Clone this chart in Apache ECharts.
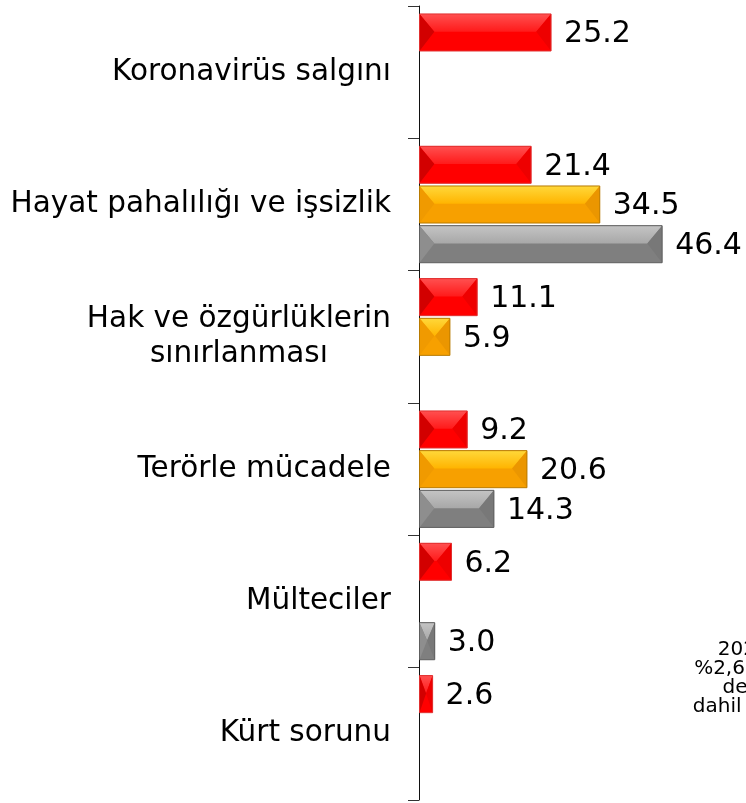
<!DOCTYPE html>
<html>
<head>
<meta charset="utf-8">
<script src="https://cdn.jsdelivr.net/npm/echarts@6/dist/echarts.min.js"></script>
<style>
  html, body { margin: 0; padding: 0; background: #fff; }
  #chart { width: 746px; height: 803px; }
</style>
</head>
<body>
<div id="chart"></div>
<script>
var categories = [
    'Koronavirüs salgını',
    'Hayat pahalılığı ve işsizlik',
    'Hak ve özgürlüklerin\nsınırlanması',
    'Terörle mücadele',
    'Mülteciler',
    'Kürt sorunu'
];
var redValues = [25.2, 21.4, 11.1, 9.2, 6.2, 2.6];
var orangeValues = [null, 34.5, 5.9, 20.6, null, null];
var grayValues = [null, 46.4, null, 14.3, 3.0, null];
var seriesNames = ['2021', '2020', '2019'];

var FONT = '"DejaVu Sans", Verdana, sans-serif';

// bevel colours for each series
var looks = [
    { base: '#ff0000', top: '#ff5050', topEnd: '#ff1a1a', left: '#d20000', right: '#ee0000', border: '#e03030' },
    { base: '#f7a000', top: '#ffd83a', topEnd: '#ffb400', left: '#f09a00', right: '#eb9600', border: '#b87a00' },
    { base: '#7f7f7f', top: '#c4c4c4', topEnd: '#a8a8a8', left: '#8e8e8e', right: '#787878', border: '#5e5e5e' }
];

function toData(values) {
    var out = [];
    values.forEach(function (v, i) {
        if (v != null) out.push([v, i]);
    });
    return out;
}

function bevelBar(slot) {
    var look = looks[slot];
    return function (params, api) {
        var v = api.value(0), c = api.value(1);
        var p0 = api.coord([0, c]);
        var p1 = api.coord([v, c]);
        var band = api.size([0, 1])[1];
        var h = band * 0.28, step = band * 0.30;
        var cy = p0[1] + (slot - 1) * step;
        var y0 = cy - h / 2, y1 = cy + h / 2;
        var x0 = p0[0] + 0.5, x1 = p1[0];
        var b = Math.min(h * 0.4, (x1 - x0) / 2);
        var ym = y0 + h * 0.48;
        return {
            type: 'group',
            children: [
                { type: 'rect', shape: { x: x0, y: y0, width: x1 - x0, height: h }, style: { fill: look.base } },
                { type: 'polygon', shape: { points: [[x0, y0], [x1, y0], [x1 - b, ym], [x0 + b, ym]] },
                  style: { fill: new echarts.graphic.LinearGradient(0, 0, 0, 1, [
                      { offset: 0, color: look.top }, { offset: 1, color: look.topEnd }]) } },
                { type: 'polygon', shape: { points: [[x0, y0], [x0 + b, ym], [x0, y1]] }, style: { fill: look.left } },
                { type: 'polygon', shape: { points: [[x1, y0], [x1 - b, ym], [x1, y1]] }, style: { fill: look.right } },
                { type: 'rect', shape: { x: x0, y: y0, width: x1 - x0, height: h },
                  style: { fill: null, stroke: look.border, lineWidth: 1 } },
                { type: 'text', style: { text: v.toFixed(1), x: x1 + 13, y: cy + 2, align: 'left',
                  verticalAlign: 'middle', font: '30px ' + FONT, fill: '#000' } }
            ]
        };
    };
}

var chart = echarts.init(document.getElementById('chart'));

chart.setOption({
    animation: false,
    grid: { left: 419, right: 65, top: 6, bottom: 3 },
    xAxis: { type: 'value', min: 0, max: 50, show: false },
    yAxis: {
        type: 'category',
        data: categories,
        inverse: true,
        axisLine: { show: true, lineStyle: { color: '#111', width: 1 } },
        axisTick: { show: true, length: 11, lineStyle: { color: '#333', width: 1 } },
        axisLabel: {
            margin: 28,
            formatter: function (val) {
                return val.split('\n').map(function (l) { return '{c|' + l + '}'; }).join('\n');
            },
            rich: {
                c: { fontSize: 29.5, fontFamily: FONT, color: '#000', lineHeight: 35, align: 'center' }
            }
        }
    },
    graphic: [{
        type: 'text',
        style: {
            text: "2020'deki\n%2,6 oranında\ndeğerine\ndahil edilmiştir",
            x: 767, y: 640,
            align: 'center', verticalAlign: 'top',
            font: '20px ' + FONT, lineHeight: 19, fill: '#000'
        }
    }],
    series: [redValues, orangeValues, grayValues].map(function (vals, k) {
        return {
            name: seriesNames[k],
            type: 'custom',
            renderItem: bevelBar(k),
            encode: { x: 0, y: 1 },
            data: toData(vals)
        };
    })
});
</script>
</body>
</html>
